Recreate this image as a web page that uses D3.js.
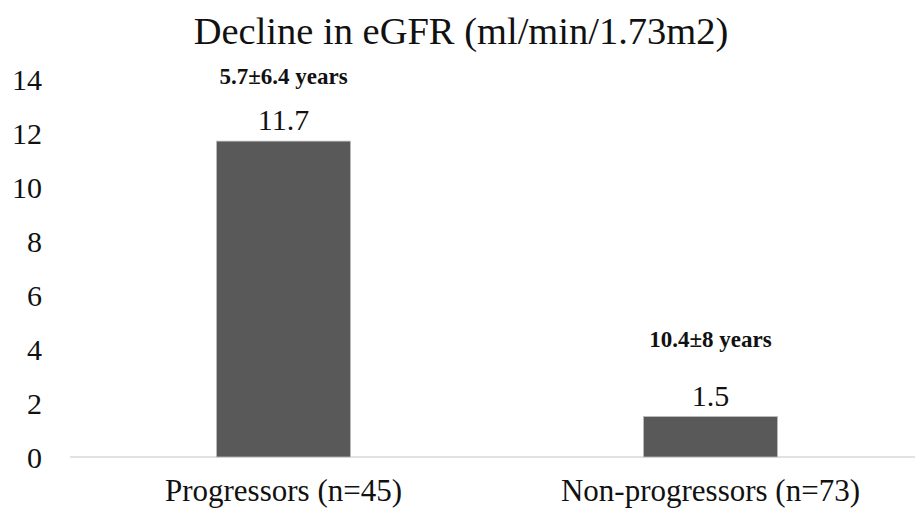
<!DOCTYPE html>
<html><head><meta charset="utf-8">
<script src="https://cdn.jsdelivr.net/npm/d3@7"></script>
<style>body{margin:0;background:#fff}svg{display:block}text{font-family:"Liberation Serif","Times New Roman",serif;fill:#111}</style>
</head><body><svg id="c" width="915" height="510"></svg>
<script>
const categories = ["Progressors (n=45)", "Non-progressors (n=73)"];
const values = [11.7, 1.5];
const valueLabels = ["11.7", "1.5"];
const durationLabels = ["5.7\u00b16.4 years", "10.4\u00b18 years"];
const yTicks = [0, 2, 4, 6, 8, 10, 12, 14];
const title = "Decline in eGFR (ml/min/1.73m2)";

const svg = d3.select("#c");
const x = d3.scaleBand().domain(categories).range([70, 924]).paddingInner(0.686).paddingOuter(0.343);
const y = d3.scaleLinear().domain([0, 14]).range([457, 79]);

svg.append("text").attr("x", 461).attr("y", 44).attr("text-anchor", "middle")
  .style("font-size", "38.5px").text(title);

// y tick labels
svg.append("g").selectAll("text").data(yTicks).join("text")
  .attr("x", 42).attr("y", d => y(d)).attr("dy", "0.35em").attr("text-anchor", "end")
  .style("font-size", "30px").text(d => d);

// baseline
svg.append("line").attr("x1", 70).attr("x2", 915).attr("y1", y(0)).attr("y2", y(0))
  .attr("stroke", "#d9d9d9").attr("stroke-width", 1.5);

const data = categories.map((c, i) => ({c, v: values[i], lab: valueLabels[i], dur: durationLabels[i], off: i === 0 ? 46 : 59}));

svg.append("g").selectAll("rect").data(data).join("rect")
  .attr("x", d => x(d.c)).attr("width", x.bandwidth())
  .attr("y", d => y(d.v)).attr("height", d => y(0) - y(d.v))
  .attr("fill", "#595959").attr("stroke", "#bfbfbf").attr("stroke-width", 0.8);

svg.append("g").selectAll("text").data(data).join("text")
  .attr("x", d => x(d.c) + x.bandwidth() / 2).attr("y", d => y(d.v) - 11)
  .attr("text-anchor", "middle").style("font-size", "30px").text(d => d.lab);

svg.append("g").selectAll("text").data(data).join("text")
  .attr("x", d => x(d.c) + x.bandwidth() / 2).attr("y", d => y(d.v) - 11 - d.off)
  .attr("text-anchor", "middle").style("font-size", "23px").style("font-weight", "bold").text(d => d.dur);

svg.append("g").selectAll("text").data(data).join("text")
  .attr("x", d => x(d.c) + x.bandwidth() / 2).attr("y", 501)
  .attr("text-anchor", "middle").style("font-size", "31px").text(d => d.c);
</script></body></html>
